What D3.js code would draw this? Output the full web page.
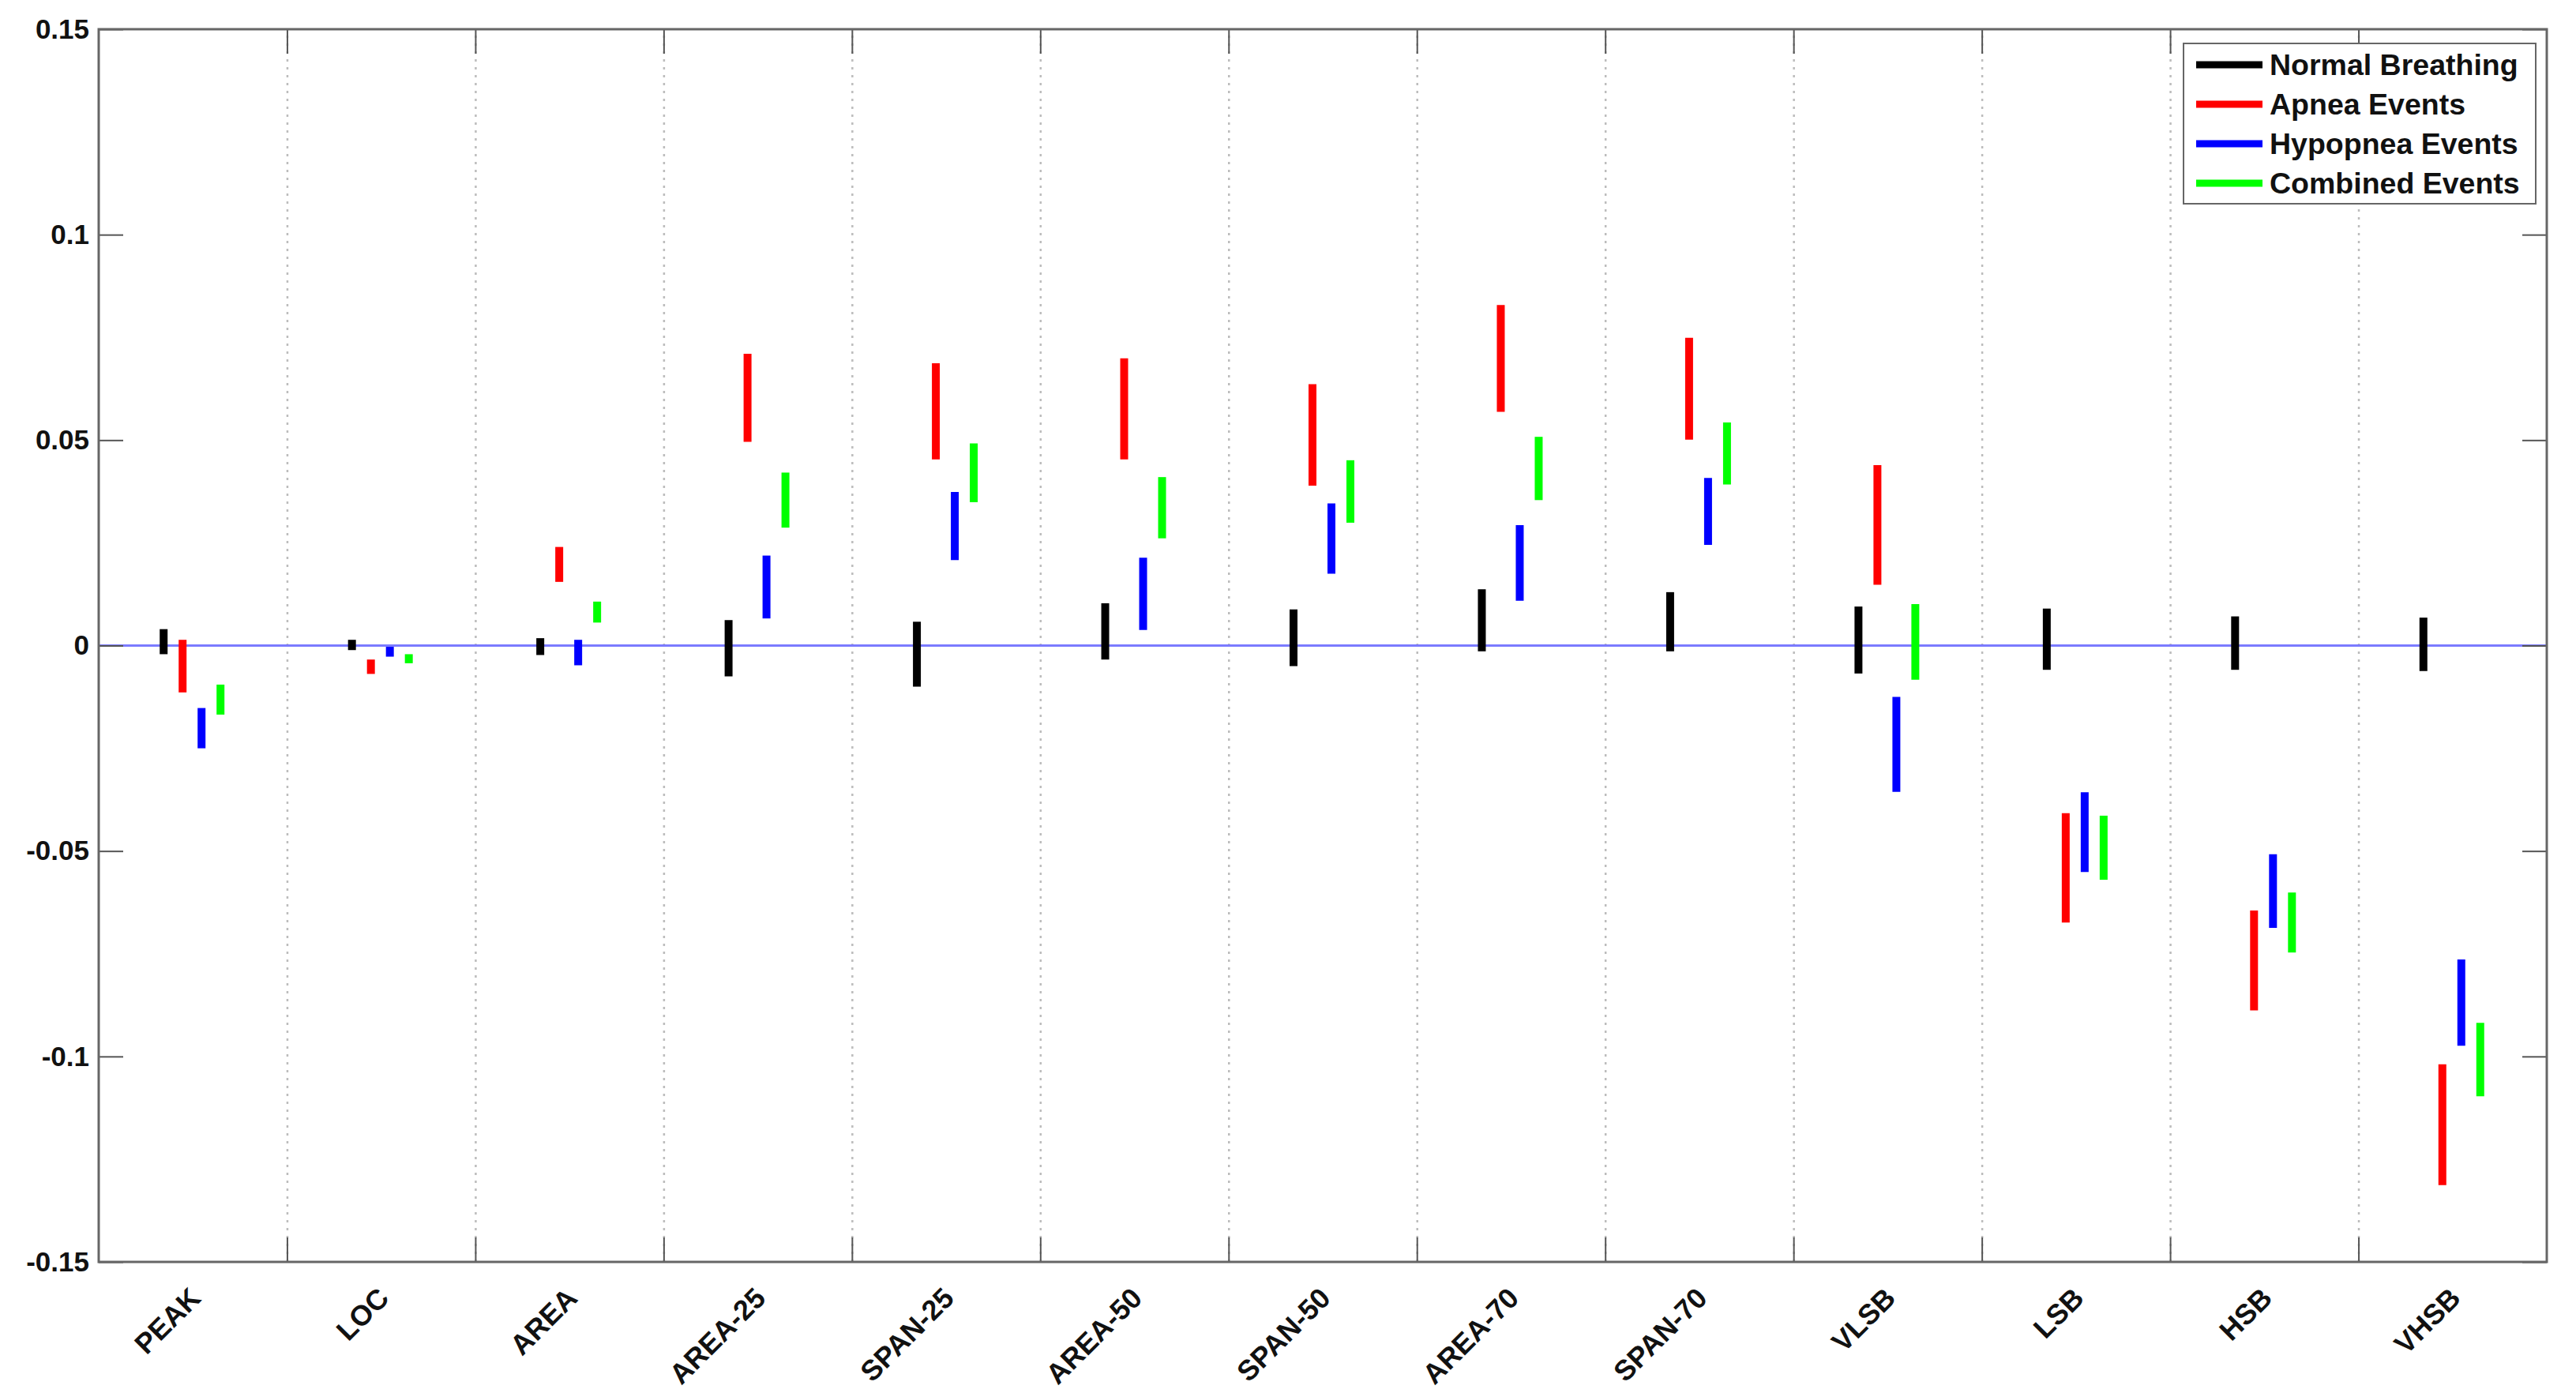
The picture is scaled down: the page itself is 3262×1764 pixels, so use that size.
<!DOCTYPE html>
<html>
<head>
<meta charset="utf-8">
<script src="https://cdn.jsdelivr.net/npm/d3@7"></script>
<style>
  body { margin: 0; background: #fff; }
  text { font-family: "Liberation Sans", Arial, sans-serif; font-weight: bold; }
</style>
</head>
<body>
<div id="chart"><svg></svg></div>
<script>
var categories = ["PEAK", "LOC", "AREA", "AREA-25", "SPAN-25", "AREA-50", "SPAN-50",
    "AREA-70", "SPAN-70", "VLSB", "LSB", "HSB", "VHSB"];
var seriesNames = ["Normal Breathing", "Apnea Events", "Hypopnea Events", "Combined Events"];
var seriesColors = ["#000000", "#ff0000", "#0000ff", "#00ff00"];
var yTicks = [-0.15, -0.1, -0.05, 0, 0.05, 0.1, 0.15];

// [high, low] for each category
var normalRange = [[0.0040, -0.0021], [0.0014, -0.0011], [0.0018, -0.0023], [0.0062, -0.0075],
    [0.0058, -0.0100], [0.0103, -0.0034], [0.0088, -0.0050], [0.0137, -0.0014], [0.0130, -0.0014],
    [0.0095, -0.0068], [0.0090, -0.0059], [0.0071, -0.0059], [0.0068, -0.0062]];
var apneaRange = [[0.0014, -0.0114], [-0.0034, -0.0069], [0.0240, 0.0155], [0.0710, 0.0496],
    [0.0687, 0.0453], [0.0699, 0.0453], [0.0636, 0.0389], [0.0829, 0.0569], [0.0749, 0.0501],
    [0.0439, 0.0148], [-0.0408, -0.0674], [-0.0645, -0.0888], [-0.1019, -0.1313]];
var hypopneaRange = [[-0.0152, -0.0250], [-0.0003, -0.0027], [0.0014, -0.0048], [0.0219, 0.0066],
    [0.0374, 0.0208], [0.0214, 0.0038], [0.0346, 0.0175], [0.0293, 0.0109], [0.0408, 0.0245],
    [-0.0125, -0.0356], [-0.0357, -0.0551], [-0.0508, -0.0687], [-0.0764, -0.0974]];
var combinedRange = [[-0.0095, -0.0168], [-0.0021, -0.0043], [0.0107, 0.0056], [0.0421, 0.0287],
    [0.0492, 0.0349], [0.0410, 0.0261], [0.0451, 0.0299], [0.0508, 0.0354], [0.0543, 0.0392],
    [0.0101, -0.0083], [-0.0414, -0.0570], [-0.0601, -0.0747], [-0.0918, -0.1097]];

var allSeries = [normalRange, apneaRange, hypopneaRange, combinedRange];

var totalW = 3262, totalH = 1764;
var margin = {left: 125, right: 37, top: 37, bottom: 166};
var width = totalW - margin.left - margin.right;
var height = totalH - margin.top - margin.bottom;

var svg = d3.select("#chart").select("svg")
    .attr("width", totalW)
    .attr("height", totalH);
var g = svg.append("g")
    .attr("transform", "translate(" + [margin.left, margin.top] + ")");

var x = d3.scaleBand()
    .domain(categories)
    .range([0, width]);
var xEdge = d3.scaleLinear()
    .domain([0, categories.length])
    .range([0, width]);
var y = d3.scaleLinear()
    .domain([-0.15, 0.15])
    .range([height, 0]);
var offset = d3.scaleLinear()
    .domain([0, 3])
    .range([-37, 35]);

// dotted vertical grid at category edges
g.append("g")
    .attr("class", "grid")
    .attr("transform", "translate(0," + height + ")")
    .call(d3.axisBottom(xEdge).tickValues(d3.range(1, categories.length)).tickSize(-height).tickFormat(""))
    .call(function (s) {
        s.select(".domain").remove();
        s.selectAll("line").attr("stroke", "#bcbcbc").attr("stroke-width", 2.5)
            .attr("stroke-dasharray", "3,7");
    });

// zero line
g.append("line")
    .attr("x1", 0).attr("x2", width)
    .attr("y1", y(0)).attr("y2", y(0))
    .attr("stroke", "#7b7bff")
    .attr("stroke-width", 3);

// range bars
allSeries.forEach(function (series, si) {
    g.selectAll(".bar" + si)
        .data(series)
        .enter()
        .append("line")
        .attr("class", "bar" + si)
        .attr("x1", function (d, i) { return x(categories[i]) + x.bandwidth() / 2 + offset(si); })
        .attr("x2", function (d, i) { return x(categories[i]) + x.bandwidth() / 2 + offset(si); })
        .attr("y1", function (d) { return y(d[0]); })
        .attr("y2", function (d) { return y(d[1]); })
        .attr("stroke", seriesColors[si])
        .attr("stroke-width", 10);
});

// axes, ticks pointing inward
function styleAxis(s) {
    s.select(".domain").remove();
    s.selectAll(".tick line").attr("stroke", "#555").attr("stroke-width", 2);
    s.selectAll("text").style("font-size", "35px").attr("fill", "#111");
}
var fmt = function (d) { return d === 0 ? "0" : String(+d.toFixed(2)); };

g.append("g")
    .call(d3.axisLeft(y).tickValues(yTicks).tickSize(-31).tickPadding(12).tickFormat(fmt))
    .call(styleAxis);
g.append("g")
    .attr("transform", "translate(" + width + ",0)")
    .call(d3.axisRight(y).tickValues(yTicks).tickSize(-31).tickFormat(""))
    .call(styleAxis);
g.append("g")
    .call(d3.axisTop(xEdge).tickValues(d3.range(1, categories.length)).tickSize(-31).tickFormat(""))
    .call(styleAxis);
g.append("g")
    .attr("transform", "translate(0," + height + ")")
    .call(d3.axisBottom(xEdge).tickValues(d3.range(1, categories.length)).tickSize(-31).tickFormat(""))
    .call(styleAxis);

// frame
g.append("rect")
    .attr("width", width)
    .attr("height", height)
    .attr("fill", "none")
    .attr("stroke", "#666")
    .attr("stroke-width", 3);

// rotated category labels
g.selectAll(".xlabel")
    .data(categories)
    .enter()
    .append("text")
    .attr("class", "xlabel")
    .attr("text-anchor", "end")
    .style("font-size", "36px")
    .attr("fill", "#111")
    .attr("transform", function (d) {
        return "translate(" + (x(d) + x.bandwidth() / 2 + 12) + "," + (height + 48) + ")rotate(-45)";
    })
    .text(function (d) { return d; });

// legend
var legend = svg.append("g")
    .attr("transform", "translate(2765,55)");
legend.append("rect")
    .attr("width", 446)
    .attr("height", 203)
    .attr("fill", "#fff")
    .attr("stroke", "#666")
    .attr("stroke-width", 2);
var items = legend.selectAll(".item")
    .data(seriesNames)
    .enter()
    .append("g")
    .attr("transform", function (d, i) { return "translate(0," + (27 + i * 50) + ")"; });
items.append("line")
    .attr("x1", 16).attr("x2", 100)
    .attr("stroke", function (d, i) { return seriesColors[i]; })
    .attr("stroke-width", 9);
items.append("text")
    .attr("x", 109)
    .attr("y", 13)
    .style("font-size", "37.5px")
    .attr("fill", "#111")
    .text(function (d) { return d; });
</script>
</body>
</html>
